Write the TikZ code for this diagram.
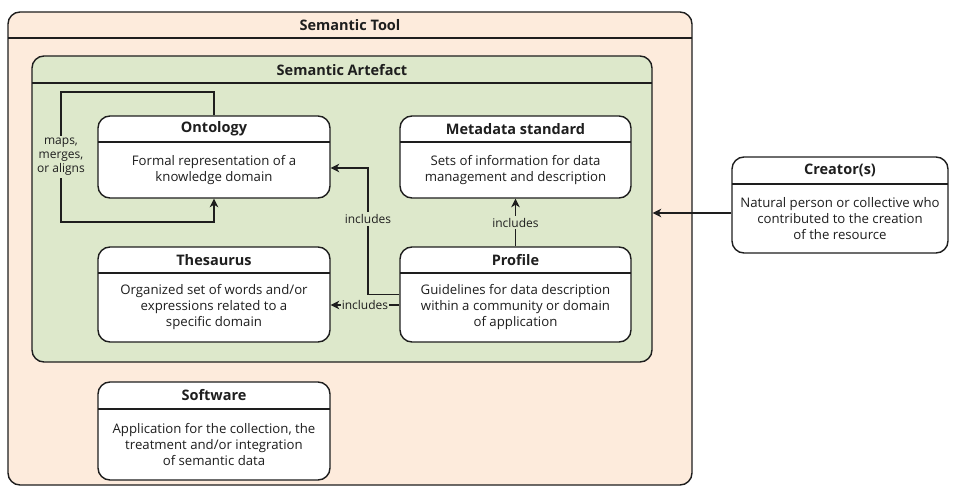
\documentclass[tikz,border=0pt]{standalone}
\usepackage{fontspec}
\setmainfont{Open Sans}
\usetikzlibrary{arrows.meta,fit,calc}

\definecolor{toolfill}{HTML}{FDEBDC}
\definecolor{artfill}{HTML}{DDE8CB}
\definecolor{ink}{HTML}{1E1E1E}

\tikzset{
  frame/.style={draw=ink, line width=1.4pt, rounded corners=12pt, inner sep=0pt},
  card/.style={frame, fill=white},
  divider/.style={draw=ink, line width=1.4pt},
  head/.style={font=\bfseries\fontsize{14.5}{16}\selectfont, text=ink, inner sep=0pt},
  body/.style={font=\fontsize{13.2}{16}\selectfont, text=ink, align=center, inner sep=0pt},
  lbl/.style={font=\fontsize{12}{14}\selectfont, text=ink, fill=artfill, align=center, inner sep=2pt},
  link/.style={draw=ink, line width=1.4pt, -{Stealth[length=8.5pt,width=8.5pt,inset=2.5pt]}},
}

% #1 name, (#2,#3) top-left, (#4,#5) bottom-right, #6 divider y, #7 title, #8 description
\newcommand\umlcard[8]{%
  \node[card, fit={(#2,#3)(#4,#5)}] (#1) {};
  \draw[divider] (#2,#6) -- (#4,#6);
  \node[head] (#1-title) at ($(#2,#3)!0.5!(#4,#6)$) {#7};
  \node[body] (#1-text) at ($(#2,#6)!0.5!(#4,#5)$) {#8};
}

\begin{document}
\begin{tikzpicture}[x=1pt, y=-1pt]
  \useasboundingbox (0,0) rectangle (956,487);

  % outer container: the tool
  \node[frame, fill=toolfill, fit={(8,12)(692,485)}] (tool) {};
  \draw[divider] (8,38) -- (692,38);
  \node[head] (tool-title) at (350,25) {Semantic Tool};

  % inner container: the artefact
  \node[frame, fill=artfill, fit={(32,56)(652,362)}] (art) {};
  \draw[divider] (32,83) -- (652,83);
  \node[head] (art-title) at (342,70) {Semantic Artefact};

  \umlcard{ont}{98}{116}{330}{198}{142}{Ontology}
    {Formal representation of a\\knowledge domain}
  \umlcard{meta}{400}{116}{631}{198}{142}{Metadata standard}
    {Sets of information for data\\management and description}
  \umlcard{thes}{98}{247}{330}{342}{273}{Thesaurus}
    {Organized set of words and/or\\expressions related to a\\specific domain}
  \umlcard{prof}{400}{247}{631}{342}{273}{Profile}
    {Guidelines for data description\\within a community or domain\\of application}
  \umlcard{soft}{98}{382}{330}{480}{409}{Software}
    {Application for the collection, the\\treatment and/or integration\\of semantic data}
  \umlcard{creator}{732}{157}{948}{253}{184}{Creator(s)}
    {Natural person or collective who\\contributed to the creation\\of the resource}

  % self relation of the ontology
  \coordinate (loopTL) at (61,92);
  \coordinate (loopBL) at (61,222);
  \draw[link] (ont.north) |- (loopTL) -- (loopBL) -| (ont.south);
  \node[lbl] (maps) at (61,157) {maps,\\merges,\\or aligns};

  % profile includes the other artefacts
  \coordinate (bend) at (368,168);
  \draw[link] (prof.west) -| (bend) -- (bend -| ont.east);
  \node[lbl] (inc-ont) at (368,219) {includes};

  \coordinate (thesrow) at (0,305);
  \draw[link] (prof.west |- thesrow) -- (thes.east |- thesrow)
    node[lbl, midway, inner sep=1pt] (inc-thes) {includes};

  \draw[link] (prof.north) -- (meta.south)
    node[lbl, midway] (inc-meta) {includes};

  % creator of the artefact
  \coordinate (crow) at (0,213);
  \draw[link] (creator.west |- crow) -- (art.east |- crow);
\end{tikzpicture}
\end{document}
